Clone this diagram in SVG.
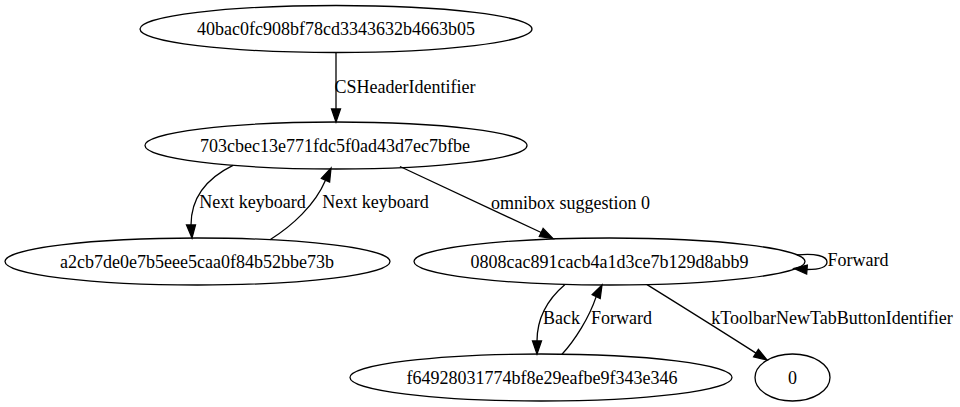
<svg xmlns="http://www.w3.org/2000/svg" width="960" height="407" viewBox="0 0 960 407">
<style>
.node ellipse{fill:none;stroke:#000;stroke-width:1.3}
text{font-family:"Liberation Serif","Times New Roman",serif;font-size:18px;fill:#000;text-anchor:middle}
.edge path{fill:none;stroke:#000;stroke-width:1.3}
.edge polygon{fill:#000;stroke:#000;stroke-width:1.3}
</style>
<rect width="960" height="407" fill="#fff"/>
<g id="n1" class="node"><ellipse cx="336" cy="29" rx="196" ry="23.5"/><text x="336" y="35">40bac0fc908bf78cd3343632b4663b05</text></g>
<g id="n2" class="node"><ellipse cx="336" cy="145.5" rx="191" ry="23.5"/><text x="335" y="151.5">703cbec13e771fdc5f0ad43d7ec7bfbe</text></g>
<g id="n3" class="node"><ellipse cx="197.5" cy="261.5" rx="192.5" ry="23.5"/><text x="197" y="267.5">a2cb7de0e7b5eee5caa0f84b52bbe73b</text></g>
<g id="n4" class="node"><ellipse cx="609.5" cy="261.5" rx="195.5" ry="23.5"/><text x="609.5" y="267.5">0808cac891cacb4a1d3ce7b129d8abb9</text></g>
<g id="n5" class="node"><ellipse cx="541" cy="377.5" rx="191" ry="23.5"/><text x="542" y="383.5">f64928031774bf8e29eafbe9f343e346</text></g>
<g id="n6" class="node"><ellipse cx="792.5" cy="377.5" rx="37.5" ry="23.5"/><text x="792.5" y="383.5">0</text></g>
<g id="edges">
<g class="edge"><path d="M336,52.5 L336,109"/><polygon points="331.5,109 340.5,109 336,122"/><text x="405" y="93">CSHeaderIdentifier</text></g>
<g class="edge"><path d="M233,165.3 C207,178 191,198 191,225"/><polygon points="186.5,225 195.5,225 192,238"/><text x="252.5" y="208">Next keyboard</text></g>
<g class="edge"><path d="M270,239.7 C292,226 315,205 325.5,180.2"/><polygon points="321.4,178.3 329.6,182.1 331,168"/><text x="375.5" y="208">Next keyboard</text></g>
<g class="edge"><path d="M400,166.5 C450,190 500,213 541.2,232.5"/><polygon points="543.1,228.4 539.3,236.6 553,238.5"/><text x="570.5" y="209">omnibox suggestion 0</text></g>
<g class="edge"><path d="M797,255 C815,253 827,256 827,262 C827,267 820,269.5 807,269.5"/><polygon points="807.35,265 806.65,274 794,268.5"/><text x="858" y="266">Forward</text></g>
<g class="edge"><path d="M565,284.4 C549,298 537,315 537,341"/><polygon points="532.5,341 541.5,341 537,354"/><text x="561.5" y="324">Back</text></g>
<g class="edge"><path d="M562,354.3 C575,340 589,318 596.2,296.6"/><polygon points="592.2,294.6 600.2,298.6 602,285"/><text x="621.5" y="324">Forward</text></g>
<g class="edge"><path d="M647,284.6 C683,307 720,330 756,353.1"/><polygon points="758.4,349.3 753.6,356.9 767,360"/><text x="832" y="324">kToolbarNewTabButtonIdentifier</text></g>
</g>
</svg>
